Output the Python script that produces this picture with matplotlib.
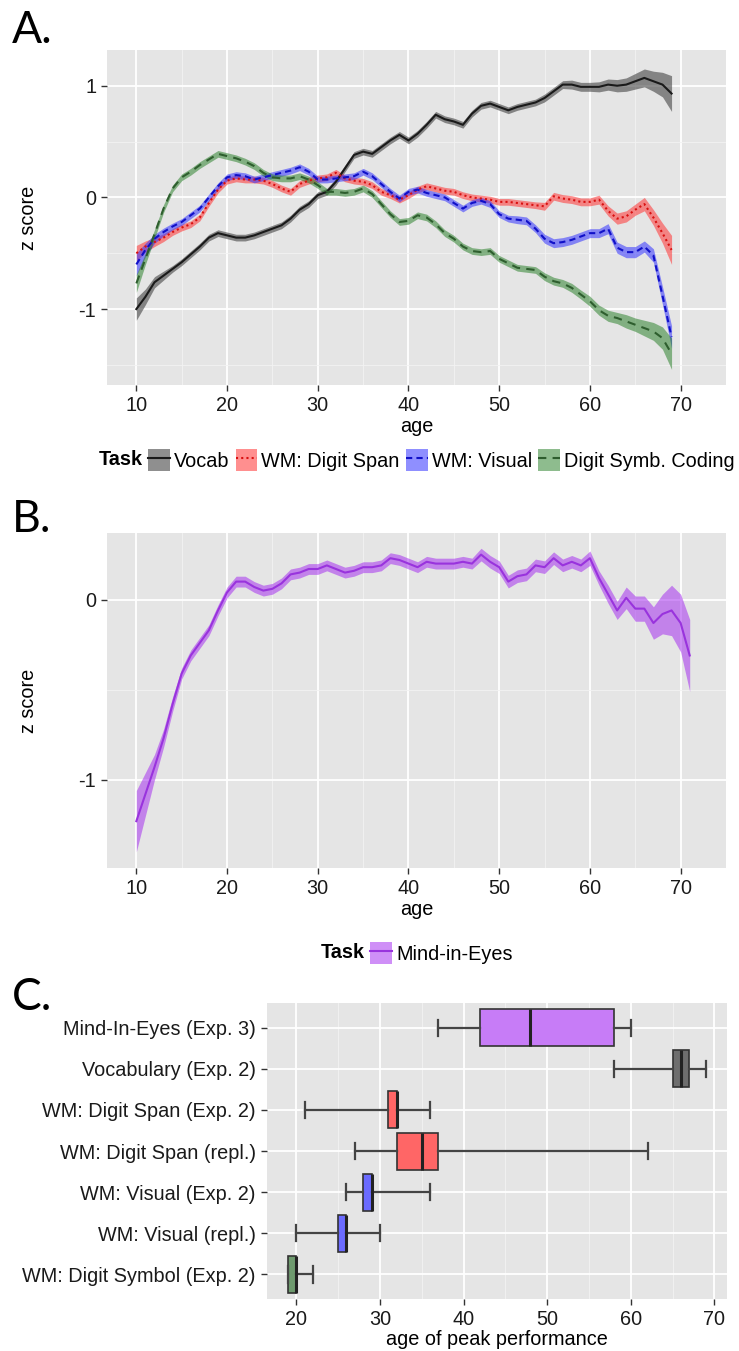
import matplotlib
matplotlib.use("Agg")
import matplotlib.pyplot as plt
from matplotlib.patches import Patch
from matplotlib.lines import Line2D
from matplotlib.ticker import MultipleLocator

plt.rcParams["font.family"] = ["Liberation Sans", "DejaVu Sans"]
plt.rcParams["axes.unicode_minus"] = False

# ---- panel A: z score by age, four tasks ----
age_a = list(range(10, 70))
vocab = [-1.00, -0.89, -0.76, -0.70, -0.64, -0.58, -0.51, -0.44, -0.36, -0.32,
         -0.34, -0.36, -0.36, -0.34, -0.31, -0.28, -0.25, -0.19, -0.11, -0.06,
         0.02, 0.05, 0.14, 0.26, 0.38, 0.41, 0.39, 0.45, 0.51, 0.56,
         0.51, 0.57, 0.65, 0.74, 0.70, 0.68, 0.65, 0.75, 0.82, 0.84,
         0.81, 0.78, 0.81, 0.83, 0.85, 0.89, 0.95, 1.01, 1.01, 0.99,
         0.99, 0.99, 1.01, 1.00, 1.01, 1.04, 1.07, 1.04, 1.01, 0.93]
vocab_se = [0.10, 0.07, 0.05, 0.04, 0.03, 0.03, 0.03, 0.03, 0.03, 0.03,
            0.03, 0.03, 0.03, 0.03, 0.03, 0.03, 0.03, 0.03, 0.03, 0.03,
            0.03, 0.03, 0.03, 0.03, 0.03, 0.03, 0.03, 0.03, 0.03, 0.03,
            0.03, 0.03, 0.03, 0.03, 0.03, 0.03, 0.03, 0.03, 0.03, 0.03,
            0.03, 0.03, 0.03, 0.03, 0.03, 0.035, 0.035, 0.035, 0.04, 0.04,
            0.04, 0.045, 0.05, 0.055, 0.06, 0.07, 0.08, 0.09, 0.11, 0.16]
digit_span = [-0.50, -0.44, -0.40, -0.36, -0.31, -0.27, -0.24, -0.18, -0.05, 0.07,
              0.15, 0.17, 0.16, 0.16, 0.15, 0.12, 0.08, 0.05, 0.12, 0.15,
              0.17, 0.18, 0.22, 0.17, 0.15, 0.14, 0.11, 0.05, 0.02, -0.02,
              0.02, 0.07, 0.10, 0.08, 0.06, 0.05, 0.02, 0.00, -0.01, -0.02,
              -0.04, -0.04, -0.05, -0.06, -0.07, -0.08, 0.01, -0.01, -0.02, -0.04,
              -0.04, -0.02, -0.12, -0.19, -0.17, -0.11, -0.06, -0.18, -0.32, -0.47]
digit_span_se = [0.07, 0.05, 0.04, 0.035, 0.03, 0.03, 0.03, 0.03, 0.03, 0.03,
                 0.03, 0.03, 0.03, 0.03, 0.03, 0.03, 0.03, 0.03, 0.03, 0.03,
                 0.03, 0.03, 0.03, 0.03, 0.03, 0.03, 0.03, 0.03, 0.03, 0.03,
                 0.03, 0.03, 0.03, 0.03, 0.03, 0.03, 0.03, 0.03, 0.03, 0.03,
                 0.03, 0.03, 0.03, 0.03, 0.03, 0.035, 0.035, 0.035, 0.035, 0.035,
                 0.035, 0.04, 0.045, 0.05, 0.05, 0.05, 0.06, 0.07, 0.09, 0.13]
visual = [-0.60, -0.47, -0.37, -0.31, -0.26, -0.22, -0.16, -0.10, 0.00, 0.10,
          0.18, 0.20, 0.19, 0.16, 0.18, 0.20, 0.22, 0.24, 0.27, 0.23,
          0.16, 0.16, 0.17, 0.18, 0.19, 0.23, 0.19, 0.12, 0.05, -0.01,
          0.05, 0.07, 0.04, 0.02, 0.00, -0.05, -0.10, -0.05, -0.03, -0.06,
          -0.15, -0.19, -0.20, -0.21, -0.28, -0.37, -0.41, -0.40, -0.38, -0.35,
          -0.32, -0.32, -0.28, -0.45, -0.49, -0.49, -0.44, -0.52, -0.88, -1.25]
visual_se = [0.10, 0.06, 0.04, 0.035, 0.03, 0.03, 0.03, 0.03, 0.03, 0.03,
             0.03, 0.03, 0.03, 0.03, 0.03, 0.03, 0.03, 0.03, 0.03, 0.03,
             0.03, 0.03, 0.03, 0.03, 0.03, 0.03, 0.03, 0.03, 0.03, 0.03,
             0.03, 0.03, 0.03, 0.03, 0.03, 0.03, 0.03, 0.03, 0.03, 0.03,
             0.03, 0.03, 0.035, 0.035, 0.035, 0.04, 0.04, 0.04, 0.04, 0.04,
             0.04, 0.04, 0.045, 0.05, 0.05, 0.05, 0.05, 0.06, 0.08, 0.10]
symb_coding = [-0.77, -0.55, -0.33, -0.10, 0.08, 0.18, 0.23, 0.29, 0.34, 0.39,
               0.37, 0.35, 0.32, 0.28, 0.22, 0.18, 0.17, 0.17, 0.19, 0.16,
               0.11, 0.05, 0.05, 0.04, 0.05, 0.08, 0.03, -0.06, -0.15, -0.22,
               -0.21, -0.16, -0.18, -0.24, -0.32, -0.37, -0.44, -0.48, -0.49, -0.48,
               -0.55, -0.59, -0.63, -0.64, -0.65, -0.71, -0.75, -0.77, -0.81, -0.87,
               -0.93, -1.01, -1.06, -1.08, -1.11, -1.14, -1.17, -1.20, -1.26, -1.40]
symb_coding_se = [0.08, 0.05, 0.04, 0.035, 0.03, 0.03, 0.03, 0.03, 0.03, 0.03,
                  0.03, 0.03, 0.03, 0.03, 0.03, 0.03, 0.03, 0.03, 0.03, 0.03,
                  0.03, 0.03, 0.03, 0.03, 0.03, 0.03, 0.03, 0.03, 0.03, 0.03,
                  0.03, 0.03, 0.03, 0.03, 0.03, 0.03, 0.03, 0.03, 0.03, 0.03,
                  0.03, 0.03, 0.03, 0.03, 0.03, 0.035, 0.035, 0.035, 0.04, 0.04,
                  0.045, 0.045, 0.05, 0.05, 0.06, 0.06, 0.07, 0.08, 0.10, 0.14]

# ---- panel B: Mind-in-Eyes ----
age_b = list(range(10, 72))
mind = [-1.23, -1.08, -0.93, -0.77, -0.58, -0.41, -0.31, -0.24, -0.17, -0.06,
        0.04, 0.10, 0.10, 0.07, 0.05, 0.06, 0.09, 0.14, 0.15, 0.17,
        0.17, 0.19, 0.17, 0.15, 0.16, 0.18, 0.18, 0.19, 0.23, 0.22,
        0.20, 0.18, 0.21, 0.20, 0.20, 0.20, 0.21, 0.20, 0.25, 0.21,
        0.18, 0.10, 0.13, 0.14, 0.19, 0.18, 0.23, 0.19, 0.21, 0.19,
        0.23, 0.12, 0.03, -0.06, 0.01, -0.05, -0.05, -0.13, -0.08, -0.06,
        -0.13, -0.31]
mind_se = [0.17, 0.12, 0.07, 0.05, 0.04, 0.03, 0.03, 0.03, 0.03, 0.03,
           0.03, 0.03, 0.03, 0.03, 0.03, 0.03, 0.03, 0.03, 0.03, 0.03,
           0.03, 0.03, 0.03, 0.03, 0.03, 0.03, 0.03, 0.03, 0.03, 0.03,
           0.03, 0.03, 0.03, 0.03, 0.03, 0.03, 0.03, 0.03, 0.035, 0.035,
           0.035, 0.035, 0.035, 0.035, 0.035, 0.035, 0.035, 0.035, 0.035, 0.035,
           0.04, 0.04, 0.05, 0.05, 0.06, 0.07, 0.07, 0.09, 0.11, 0.14,
           0.16, 0.20]

# ---- panel C: age of peak performance ----
peak_tasks = ["Mind-In-Eyes (Exp. 3)", "Vocabulary (Exp. 2)", "WM: Digit Span (Exp. 2)",
              "WM: Digit Span (repl.)", "WM: Visual (Exp. 2)", "WM: Visual (repl.)",
              "WM: Digit Symbol (Exp. 2)"]
peak_whislo = [37, 58, 21, 27, 26, 20, 19]
peak_q1 = [42, 65, 31, 32, 28, 25, 19]
peak_med = [48, 66, 32, 35, 29, 26, 20]
peak_q3 = [58, 67, 32, 37, 29, 26, 20]
peak_whishi = [60, 69, 36, 62, 36, 30, 22]
peak_colors = ["#C77CF7", "#6E6E6E", "#FF6666", "#FF6666", "#6B6BFF", "#6B6BFF", "#6E9A6E"]

FS = 14.3
fig = plt.figure(figsize=(7.39, 13.51), dpi=100)
axA = fig.add_axes([0.1452, 0.715, 0.8372, 0.248])
axB = fig.add_axes([0.1452, 0.3575, 0.8372, 0.248])
axC = fig.add_axes([0.3613, 0.0385, 0.6225, 0.219])


def style(ax):
    ax.set_facecolor("#E5E5E5")
    for s in ax.spines.values():
        s.set_visible(False)
    ax.set_axisbelow(True)
    ax.grid(which="major", color="white", lw=1.3)
    ax.grid(which="minor", color="#F3F3F3", lw=0.6)
    ax.tick_params(which="major", length=4, width=1, color="#333333",
                   labelsize=FS, labelcolor="#1A1A1A", pad=4)
    ax.tick_params(which="minor", length=0)


series = [
    ("Vocab", vocab, vocab_se, "#1A1A1A", "#444444", 0.6, "-"),
    ("WM: Digit Span", digit_span, digit_span_se, "#D81010", "#FF3333", 0.55, (0, (1, 1.5))),
    ("WM: Visual", visual, visual_se, "#1010C8", "#3333FF", 0.55, (0, (3, 2))),
    ("Digit Symb. Coding", symb_coding, symb_coding_se, "#2E5E2E", "#1E7A1E", 0.5, (0, (4, 3))),
]

style(axA)
for name, y, se, lc, fc, a, ls in series:
    lo = [v - s for v, s in zip(y, se)]
    hi = [v + s for v, s in zip(y, se)]
    axA.fill_between(age_a, lo, hi, color=fc, alpha=a, lw=0)
for name, y, se, lc, fc, a, ls in series:
    axA.plot(age_a, y, color=lc, ls=ls, lw=1.5)
axA.set_xlim(6.8, 75.0)
axA.set_ylim(-1.68, 1.32)
axA.set_xticks([10, 20, 30, 40, 50, 60, 70])
axA.set_yticks([-1, 0, 1])
axA.xaxis.set_minor_locator(MultipleLocator(5))
axA.yaxis.set_minor_locator(MultipleLocator(0.5))
axA.set_xlabel("age", fontsize=FS, labelpad=1)
axA.set_ylabel("z score", fontsize=FS)
axA.yaxis.set_label_coords(-0.112, 0.5)

style(axB)
lo = [v - s for v, s in zip(mind, mind_se)]
hi = [v + s for v, s in zip(mind, mind_se)]
axB.fill_between(age_b, lo, hi, color="#A020F0", alpha=0.5, lw=0)
axB.plot(age_b, mind, color="#9933DD", lw=1.5)
axB.set_xlim(6.8, 75.0)
axB.set_ylim(-1.49, 0.37)
axB.set_xticks([10, 20, 30, 40, 50, 60, 70])
axB.set_yticks([-1, 0])
axB.xaxis.set_minor_locator(MultipleLocator(5))
axB.yaxis.set_minor_locator(MultipleLocator(0.5))
axB.set_xlabel("age", fontsize=FS, labelpad=1)
axB.set_ylabel("z score", fontsize=FS)
axB.yaxis.set_label_coords(-0.112, 0.5)

style(axC)
stats = [dict(label=t, whislo=a, q1=b, med=c, q3=d, whishi=e, fliers=[])
         for t, a, b, c, d, e in zip(peak_tasks, peak_whislo, peak_q1, peak_med, peak_q3, peak_whishi)]
pos = list(range(len(peak_tasks), 0, -1))
res = axC.bxp(stats, positions=pos, widths=0.9, capwidths=0.4, orientation="horizontal",
              patch_artist=True, showfliers=False,
              boxprops=dict(edgecolor="#333333", lw=1.2),
              medianprops=dict(color="#222222", lw=2.2),
              whiskerprops=dict(color="#444444", lw=1.6),
              capprops=dict(color="#444444", lw=1.6))
for patch, c in zip(res["boxes"], peak_colors):
    patch.set_facecolor(c)
axC.set_yticks(pos)
axC.set_yticklabels(peak_tasks)
axC.set_ylim(0.4, 7.6)
axC.set_xlim(16.5, 71.5)
axC.set_xticks([20, 30, 40, 50, 60, 70])
axC.xaxis.set_minor_locator(MultipleLocator(5))
axC.set_xlabel("age of peak performance", fontsize=FS, labelpad=1)

# panel letters
for letter, ypx in [("A.", 43), ("B.", 532), ("C.", 1010)]:
    fig.text(12 / 739, 1 - ypx / 1351, letter, fontsize=32, family=["Lato", "DejaVu Sans"],
             va="baseline", ha="left")


def task_legend(handles, labels, ypx):
    yc = 1 - ypx / 1351
    leg = fig.legend(handles, labels, loc="center left", bbox_to_anchor=(0, yc),
                     ncol=len(labels), frameon=False, fontsize=FS, handlelength=1.1,
                     handleheight=1.4, handletextpad=0.2, columnspacing=0.3,
                     borderpad=0, borderaxespad=0)
    title = fig.text(0, yc, "Task", fontweight="bold", fontsize=FS, va="center")
    fig.canvas.draw()
    r = fig.canvas.get_renderer()
    wl = leg.get_window_extent(r).width
    wt = title.get_window_extent(r).width
    gap = 5
    W = fig.bbox.width
    x0 = 416.7 - (wt + gap + wl) / 2
    title.set_x(x0 / W)
    leg.set_bbox_to_anchor(((x0 + wt + gap) / W, yc), transform=fig.transFigure)


hA = [(Patch(facecolor=fc, alpha=a, edgecolor="none"), Line2D([], [], color=lc, ls=ls, lw=1.5))
      for name, y, se, lc, fc, a, ls in series]
task_legend(hA, [s[0] for s in series], 460)
hB = [(Patch(facecolor="#A020F0", alpha=0.5, edgecolor="none"), Line2D([], [], color="#9933DD", lw=1.5))]
task_legend(hB, ["Mind-in-Eyes"], 953)

fig.savefig("out.png", dpi=100)
